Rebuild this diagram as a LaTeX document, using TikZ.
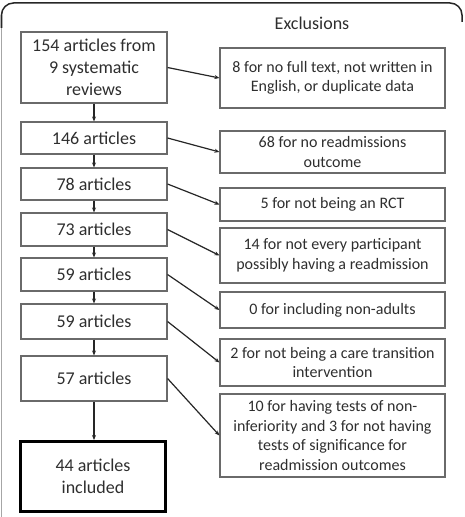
\documentclass[tikz,border=0pt]{standalone}
\usepackage{fontspec}
\setmainfont{Carlito}
\usetikzlibrary{arrows.meta}
\definecolor{txt}{HTML}{2E2E2E}
\definecolor{boxline}{HTML}{6A6A6A}
\begin{document}
\begin{tikzpicture}[x=1bp,y=-1bp,
  lbox/.style={draw=boxline,line width=1.1bp,rectangle,inner sep=0pt,minimum width=146bp,align=center,text=txt,font=\fontsize{18bp}{22bp}\selectfont},
  rbox/.style={draw=boxline,line width=1.1bp,rectangle,inner sep=0pt,minimum width=225bp,align=center,text=txt,font=\fontsize{16bp}{19.5bp}\selectfont},
  arr/.style={-{Stealth[length=5bp,width=4bp]},line width=1.2bp,draw=black!85}]
\useasboundingbox (0,0) rectangle (465,517);
% frame
\draw[gray!70,line width=1.5bp] (1.5,517) -- (1.5,28);
\draw[black!85,line width=1.5bp,rounded corners=12bp] (1.5,28) -- (1.5,3) -- (462,3) -- (462,22);
\node[text=txt,font=\fontsize{18bp}{22bp}\selectfont] (excl) at (312,23) {Exclusions};
% left column
\node[lbox,minimum height=71bp] (l1) at (94,67.5) {154 articles from\\9 systematic\\reviews};
\node[lbox,minimum height=32bp] (l2) at (94,138) {146 articles};
\node[lbox,minimum height=32bp] (l3) at (94,184) {78 articles};
\node[lbox,minimum height=33bp] (l4) at (94,229.5) {73 articles};
\node[lbox,minimum height=33bp] (l5) at (94,274.5) {59 articles};
\node[lbox,minimum height=35bp] (l6) at (94,321.5) {59 articles};
\node[lbox,minimum height=45bp] (l7) at (94,378.5) {57 articles};
\node[lbox,draw=black,line width=3bp,minimum width=145bp,minimum height=70bp] (l8) at (93,476.5) {44 articles\\included};
% right column
\node[rbox,minimum height=60bp] (r1) at (332.5,78) {8 for no full text, not written in\\English, or duplicate data};
\node[rbox,minimum height=42bp] (r2) at (332.5,152) {68 for no readmissions\\outcome};
\node[rbox,minimum height=33bp] (r3) at (332.5,204.5) {5 for not being an RCT};
\node[rbox,minimum height=55bp] (r4) at (332.5,255.5) {14 for not every participant\\possibly having a readmission};
\node[rbox,minimum height=36bp] (r5) at (332.5,310) {0 for including non-adults};
\node[rbox,minimum height=47bp] (r6) at (332.5,362.5) {2 for not being a care transition\\intervention};
\node[rbox,minimum height=83bp] (r7) at (332.5,435.5) {10 for having tests of non-\\inferiority and 3 for not having\\tests of significance for\\readmission outcomes};
% vertical arrows
\draw[arr] (l1.south) -- (l2.north);
\draw[arr] (l2.south) -- (l3.north);
\draw[arr] (l3.south) -- (l4.north);
\draw[arr] (l4.south) -- (l5.north);
\draw[arr] (l5.south) -- (l6.north);
\draw[arr] (l6.south) -- (l7.north);
\draw[arr] (l7.south -| l7.center) -- (l8.north -| l7.center);
% exclusion arrows
\draw[arr] (l1.east) -- (r1.west);
\draw[arr] (l2.east) -- (r2.west);
\draw[arr] (l3.east) -- (r3.west);
\draw[arr] (l4.east) -- (r4.west);
\draw[arr] (l5.east) -- (r5.west);
\draw[arr] (l6.east) -- (r6.west);
\draw[arr] (l7.east) -- (r7.west);
\end{tikzpicture}
\end{document}
